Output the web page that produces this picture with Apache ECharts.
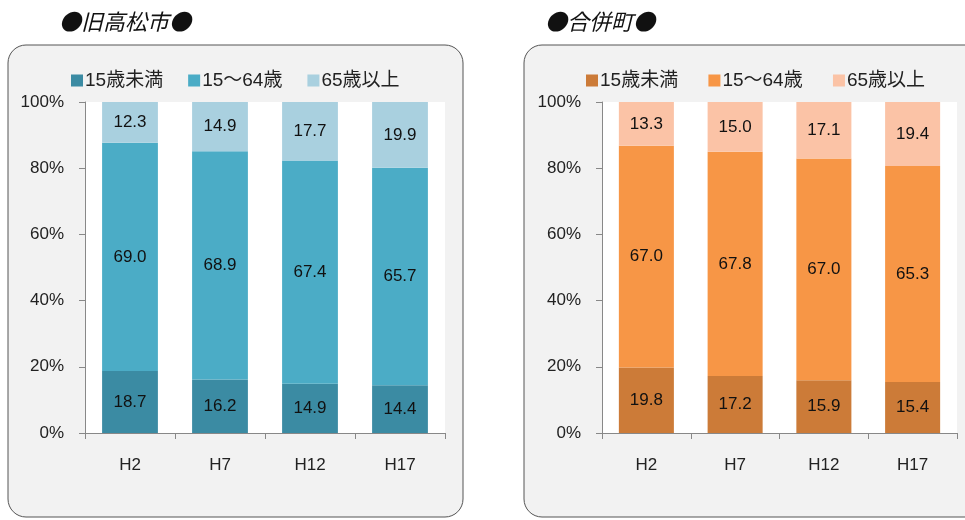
<!DOCTYPE html>
<html>
<head>
<meta charset="utf-8">
<script src="https://cdn.jsdelivr.net/npm/echarts@6/dist/echarts.min.js"></script>
<style>
  html, body { margin: 0; padding: 0; background: #ffffff; }
  #chart { width: 965px; height: 520px; }
</style>
</head>
<body>
<div id="chart"></div>
<script>
// data
var categories = ['H2', 'H7', 'H12', 'H17'];
var seriesNames = ['15歳未満', '15～64歳', '65歳以上'];

var takamatsuYoung = [18.7, 16.2, 14.9, 14.4];
var takamatsuWork  = [69.0, 68.9, 67.4, 65.7];
var takamatsuOld   = [12.3, 14.9, 17.7, 19.9];

var gappeiYoung = [19.8, 17.2, 15.9, 15.4];
var gappeiWork  = [67.0, 67.8, 67.0, 65.3];
var gappeiOld   = [13.3, 15.0, 17.1, 19.4];

var blueColors   = ['#3b8ba3', '#4bacc6', '#a9d0df'];
var orangeColors = ['#cc7b38', '#f79646', '#fbc3a6'];

var font = '"Liberation Sans", Arial, "Noto Sans CJK JP", sans-serif';
var titleFont = '"Noto Sans CJK JP", sans-serif';

var chart = echarts.init(document.getElementById('chart'));

function makeSeries(name, data, color, idx, stack) {
    return {
        name: name,
        type: 'bar',
        stack: stack,
        xAxisIndex: idx,
        yAxisIndex: idx,
        barWidth: '62%',
        data: data,
        itemStyle: { color: color },
        label: {
            show: true,
            position: 'inside',
            color: '#111',
            fontSize: 17,
            fontFamily: font,
            formatter: function (p) { return p.value.toFixed(1); }
        }
    };
}

function makeXAxis(idx) {
    return {
        type: 'category',
        gridIndex: idx,
        data: categories,
        axisLine: { lineStyle: { color: '#888' } },
        axisTick: { show: true, length: 6, lineStyle: { color: '#888' } },
        axisLabel: { color: '#222', fontSize: 17, fontFamily: font, margin: 24 }
    };
}

function makeYAxis(idx) {
    return {
        type: 'value',
        gridIndex: idx,
        min: 0,
        max: 100,
        interval: 20,
        axisLine: { show: true, lineStyle: { color: '#888' } },
        axisTick: { show: true, length: 6, lineStyle: { color: '#888' } },
        splitLine: { show: false },
        axisLabel: { color: '#222', fontSize: 17, fontFamily: font, formatter: '{value}%', margin: 21 }
    };
}

function makeLegend(names, colors, left) {
    return {
        data: names.map(function (n, i) { return { name: n, itemStyle: { color: colors[i] } }; }),
        left: left, top: 66,
        itemWidth: 12, itemHeight: 12, itemGap: 25,
        icon: 'rect',
        selectedMode: false,
        textStyle: { fontSize: 19, color: '#222', fontFamily: font, padding: [0, 0, 0, -3] }
    };
}

var orangeNames = seriesNames.map(function (n) { return n + ' '; });

var option = {
    backgroundColor: '#ffffff',
    animation: false,
    graphic: [
        {
            type: 'rect', z: -10,
            shape: { x: 8, y: 45, width: 455, height: 472, r: 18 },
            style: { fill: '#f2f2f2', stroke: '#555', lineWidth: 1 }
        },
        {
            type: 'rect', z: -10,
            shape: { x: 524, y: 45, width: 470, height: 472, r: 18 },
            style: { fill: '#f2f2f2', stroke: '#555', lineWidth: 1 }
        }
    ],
    title: [
        {
            text: '●旧高松市●', left: 54, top: 6,
            textStyle: { fontSize: 22, fontStyle: 'italic', fontWeight: 'normal', color: '#111', fontFamily: titleFont }
        },
        {
            text: '●合併町●', left: 540, top: 6,
            textStyle: { fontSize: 22, fontStyle: 'italic', fontWeight: 'normal', color: '#111', fontFamily: titleFont }
        }
    ],
    legend: [
        makeLegend(seriesNames, blueColors, 66),
        makeLegend(orangeNames, orangeColors, 581)
    ],
    grid: [
        { left: 85, top: 102, width: 360, height: 331, backgroundColor: '#ffffff', show: true, borderWidth: 0 },
        { left: 602, top: 102, width: 355, height: 331, backgroundColor: '#ffffff', show: true, borderWidth: 0 }
    ],
    xAxis: [makeXAxis(0), makeXAxis(1)],
    yAxis: [makeYAxis(0), makeYAxis(1)],
    series: [
        makeSeries(seriesNames[0], takamatsuYoung, blueColors[0], 0, 'a'),
        makeSeries(seriesNames[1], takamatsuWork, blueColors[1], 0, 'a'),
        makeSeries(seriesNames[2], takamatsuOld, blueColors[2], 0, 'a'),
        makeSeries(orangeNames[0], gappeiYoung, orangeColors[0], 1, 'b'),
        makeSeries(orangeNames[1], gappeiWork, orangeColors[1], 1, 'b'),
        makeSeries(orangeNames[2], gappeiOld, orangeColors[2], 1, 'b')
    ]
};

chart.setOption(option);
</script>
</body>
</html>
